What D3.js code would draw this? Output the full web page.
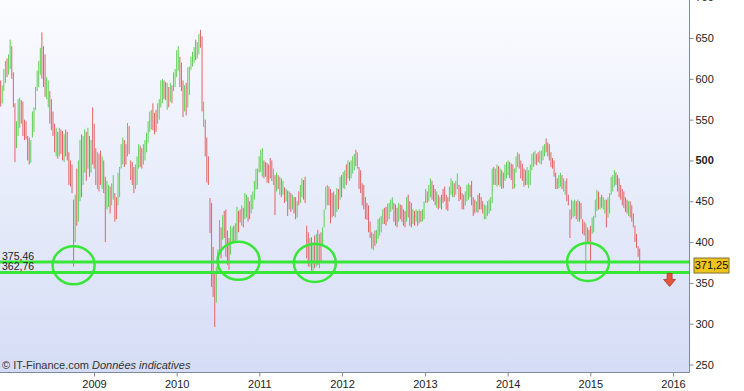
<!DOCTYPE html>
<html>
<head>
<meta charset="utf-8">
<script src="https://cdn.jsdelivr.net/npm/d3@7"></script>
<style>
  body { margin: 0; background: #fff; }
  svg { display: block; font-family: "Liberation Sans", Arial, sans-serif; }
</style>
</head>
<body>
<svg id="chart" width="744" height="391"></svg>
<script>
// Weekly bars, first week ending 16 Nov 2007
var firstWeek = new Date(2007, 10, 16);

var highs = [
  598,592,612,622,625,630,648,640,608,570,548,575,577,574,572,550,548,530,528,525,
  560,565,590,610,622,638,657,640,630,602,598,585,575,560,545,540,535,540,538,536,
  532,538,535,510,500,495,452,458,490,500,525,532,530,538,535,540,530,525,565,545,
  515,510,508,512,505,500,480,475,470,468,472,482,460,455,485,492,520,528,525,520,
  546,542,500,498,492,495,505,520,518,515,520,525,534,548,560,562,570,558,562,570,
  575,598,600,598,596,595,590,595,592,608,612,635,640,627,620,598,592,595,614,615,
  627,633,639,648,645,655,660,652,572,550,528,505,454,448,394,362,370,391,427,418,
  433,438,440,414,405,420,418,420,423,443,438,440,445,442,460,458,455,450,458,462,
  475,490,490,505,513,515,500,498,497,495,503,500,490,482,485,482,480,478,475,467,
  465,463,462,460,458,455,455,450,462,470,478,476,480,420,412,405,406,400,408,410,
  415,410,412,418,440,468,470,468,465,460,462,458,466,465,480,482,486,488,495,500,
  498,500,505,508,513,510,492,488,472,470,455,448,445,425,412,410,414,415,428,430,
  432,440,442,443,447,448,452,455,448,446,442,448,446,445,440,438,455,458,450,448,
  440,438,440,438,440,438,440,450,465,462,470,478,475,470,465,462,458,455,458,465,
  468,458,455,468,478,475,472,475,484,470,468,460,458,462,470,472,470,475,455,452,
  450,458,460,455,450,446,445,450,452,455,490,492,490,495,493,490,488,485,495,498,
  500,498,496,495,490,505,510,508,500,496,490,488,492,488,495,508,510,512,508,510,
  512,512,518,520,527,522,520,510,503,500,485,478,482,485,482,478,475,478,458,440,
  452,450,452,450,452,450,448,428,425,423,418,415,420,430,432,452,464,462,455,458,
  455,452,452,455,460,480,482,488,485,482,478,470,465,462,455,452,450,450,445,435,
  420,410,395,392
];

var lows = [
  566,570,585,595,602,605,612,600,565,498,515,530,540,545,530,525,526,500,495,497,
  528,535,562,585,590,605,600,590,578,575,565,545,537,530,510,505,502,505,508,500,
  498,505,500,470,468,460,370,400,420,425,450,455,470,485,475,490,480,485,495,490,
  470,465,462,470,465,460,400,440,443,435,445,452,425,428,445,455,490,495,492,495,
  505,508,476,470,460,465,470,490,492,490,495,500,510,522,535,538,537,532,535,545,
  550,565,570,575,574,562,565,572,570,585,590,602,610,590,585,553,560,555,565,580,
  611,615,620,623,625,630,638,560,541,505,473,470,411,345,333,296,326,362,387,380,
  403,405,382,372,366,385,398,400,400,402,412,424,420,418,428,430,425,428,435,440,
  452,464,465,485,486,480,478,480,473,472,478,475,470,433,462,465,458,455,458,448,
  450,432,440,437,440,435,428,430,445,448,455,452,448,380,370,370,365,362,368,370,
  372,368,375,395,418,440,445,445,423,430,432,430,437,440,452,455,466,465,470,478,
  475,478,484,488,493,490,465,460,445,440,428,427,412,405,392,390,395,398,404,408,
  412,422,422,420,425,428,437,440,425,420,418,425,428,425,420,418,425,430,420,418,
  422,420,425,420,423,425,425,428,448,448,450,455,452,450,445,442,440,442,440,448,
  450,440,438,450,458,455,455,458,465,450,452,440,440,445,450,452,455,445,432,435,
  437,436,440,440,435,428,428,432,435,438,448,470,470,468,470,468,465,466,475,478,
  482,478,476,465,466,485,492,490,478,475,468,470,470,466,470,488,492,495,494,498,
  496,495,500,505,510,505,500,492,490,480,465,465,466,468,465,462,458,450,445,405,
  428,430,432,428,425,425,428,410,408,363,400,398,375,410,412,430,438,440,440,442,
  440,435,418,430,435,458,462,468,470,462,455,452,445,442,437,435,432,430,425,418,
  400,393,382,363
];

// u = close above open (green), d = close below open (red)
var dirs = ("duuud uuddd uuudd ddddu uuuuu udddu udddd ududd udddd ddudu " +
            "uduud ududd duddu dduud uuddu uuudd udddd uuudd uuuuu udddu " +
            "uuudd ududu uuudd duduu uuudu uddud ddddd duuud udddd uuduu " +
            "ddudu udduu uuuuu udddd ddudu dudud ududu ddudu udddd ududu " +
            "duduu uuddd duudu duudu duuud udddd ddddd uduuu uuddu uuudd " +
            "duddd duddd ududu duuud uuddd ududd ddduu uduud ddduu udddd " +
            "udddd uuuuu uduud udduu udddu uuddd dduuu uuudd uuuud ddddd " +
            "dduud uuddd uuudu ddddu ddduu uudud uuduu uuudd ddddd duddd dddd").replace(/\s/g, "");

var lastClose = 371.25;

var supports = [375.46, 362.76];
var supportLabels = ["375,46", "362,76"];

var circleDates = [new Date(2008, 9, 3), new Date(2010, 9, 1), new Date(2011, 8, 3), new Date(2014, 11, 22)];
var circleValues = [371.5, 377, 374.5, 375.7];

var yTicks = [250, 300, 350, 400, 450, 500, 550, 600, 650, 700];
var yearTicks = [2009, 2010, 2011, 2012, 2013, 2014, 2015, 2016];

var plotW = 689, plotB = 372.5;
var green = "#5fcf55", red = "#e06464", lineGreen = "#38e638";

var svg = d3.select("#chart");

var x = d3.scaleTime()
  .domain([new Date(2009, 0, 1), new Date(2016, 0, 1)])
  .range([94, 673]);

var y = d3.scaleLinear()
  .domain([250, 650])
  .range([364.5, 38]);

var bars = highs.map(function(h, i) {
  return { date: d3.timeWeek.offset(firstWeek, i), hi: h, lo: lows[i], up: dirs[i] === "u" };
});

// Background gradient and clip
var defs = svg.append("defs");
var grad = defs.append("linearGradient")
  .attr("id", "bg")
  .attr("x1", 0).attr("y1", 0).attr("x2", 0).attr("y2", 1);
grad.append("stop").attr("offset", "0%").attr("stop-color", "#fbfcff");
grad.append("stop").attr("offset", "100%").attr("stop-color", "#d5ddf6");

defs.append("clipPath")
  .attr("id", "plotClip")
  .append("rect")
  .attr("width", plotW).attr("height", plotB);

svg.append("rect")
  .attr("width", plotW)
  .attr("height", plotB)
  .attr("fill", "url(#bg)");

// Draw the weekly bars
svg.append("g")
  .attr("clip-path", "url(#plotClip)")
  .selectAll("line")
  .data(bars)
  .enter()
  .append("line")
  .attr("x1", function(d) { return x(d.date); })
  .attr("x2", function(d) { return x(d.date); })
  .attr("y1", function(d) { return y(d.hi); })
  .attr("y2", function(d) { return y(d.lo); })
  .style("stroke", function(d) { return d.up ? green : red; })
  .style("stroke-width", "1px");

// Support lines
svg.selectAll("line.support")
  .data(supports)
  .enter()
  .append("line")
  .attr("class", "support")
  .attr("x1", 0)
  .attr("x2", plotW)
  .attr("y1", function(d) { return y(d); })
  .attr("y2", function(d) { return y(d); })
  .style("stroke", lineGreen)
  .style("stroke-width", "3px");

svg.selectAll("text.support")
  .data(supports)
  .enter()
  .append("text")
  .attr("class", "support")
  .attr("x", 2)
  .attr("y", function(d) { return y(d) - 2.5; })
  .attr("font-size", "10.5px")
  .attr("fill", "#222")
  .text(function(d, i) { return supportLabels[i]; });

// Circles on the tests of support
svg.selectAll("ellipse")
  .data(circleDates)
  .enter()
  .append("ellipse")
  .attr("cx", function(d) { return x(d); })
  .attr("cy", function(d, i) { return y(circleValues[i]); })
  .attr("rx", 21)
  .attr("ry", 19)
  .style("fill", "none")
  .style("stroke", lineGreen)
  .style("stroke-width", "2.5px");

// Axes
var axisColor = "#7d8b99";

var yAxis = svg.append("g")
  .attr("transform", "translate(" + (plotW + 0.5) + ",0)")
  .call(d3.axisRight(y).tickValues(yTicks).tickSize(4).tickPadding(2).tickFormat(d3.format("d")));
yAxis.select(".domain").remove();
yAxis.selectAll(".tick line").attr("stroke", axisColor);
yAxis.selectAll(".tick text")
  .attr("font-size", "11px")
  .attr("font-family", "Liberation Sans, Arial, sans-serif")
  .attr("fill", "#222")
  .attr("font-weight", function(d) { return d === 500 ? "bold" : "normal"; });

var xAxis = svg.append("g")
  .attr("transform", "translate(0," + plotB + ")")
  .call(d3.axisBottom(x)
    .tickValues(yearTicks.map(function(yr) { return new Date(yr, 0, 1); }))
    .tickSize(4).tickPadding(3.5)
    .tickFormat(d3.timeFormat("%Y")));
xAxis.select(".domain").remove();
xAxis.selectAll(".tick line").attr("stroke", axisColor);
xAxis.selectAll(".tick text")
  .attr("font-size", "11px")
  .attr("font-family", "Liberation Sans, Arial, sans-serif")
  .attr("fill", "#222");

svg.append("line")
  .attr("x1", plotW + 0.5).attr("x2", plotW + 0.5)
  .attr("y1", 0).attr("y2", plotB)
  .style("stroke", axisColor);
svg.append("line")
  .attr("x1", 0).attr("x2", plotW + 0.5)
  .attr("y1", plotB).attr("y2", plotB)
  .style("stroke", axisColor);

// Last price tag
var tag = svg.append("g")
  .attr("transform", "translate(694," + y(lastClose) + ")");
tag.append("rect")
  .attr("x", 0).attr("y", -7.5)
  .attr("width", 35).attr("height", 15)
  .attr("fill", "#f1c41c")
  .attr("stroke", "#7d6f35");
tag.append("text")
  .attr("x", 17.5)
  .attr("dy", "0.36em")
  .attr("text-anchor", "middle")
  .attr("font-size", "11px")
  .attr("fill", "#111")
  .text(d3.format(".2f")(lastClose).replace(".", ","));

// Down arrow under the lower support
svg.append("path")
  .attr("transform", "translate(" + x(new Date(2015, 11, 17)) + "," + (y(supports[1]) + 1) + ")")
  .attr("d", "M-2.5,0h5v6h3.5l-6,7l-6,-7h3.5z")
  .attr("fill", "#e4553c")
  .attr("stroke", "#a8382a")
  .attr("stroke-width", 0.8);

// Source line
var src = svg.append("text")
  .attr("x", 2)
  .attr("y", 369)
  .attr("font-size", "11px")
  .attr("fill", "#333");
src.append("tspan").text("\u00a9 IT-Finance.com ");
src.append("tspan").attr("font-style", "italic").text("Donn\u00e9es indicatives");
</script>
</body>
</html>
